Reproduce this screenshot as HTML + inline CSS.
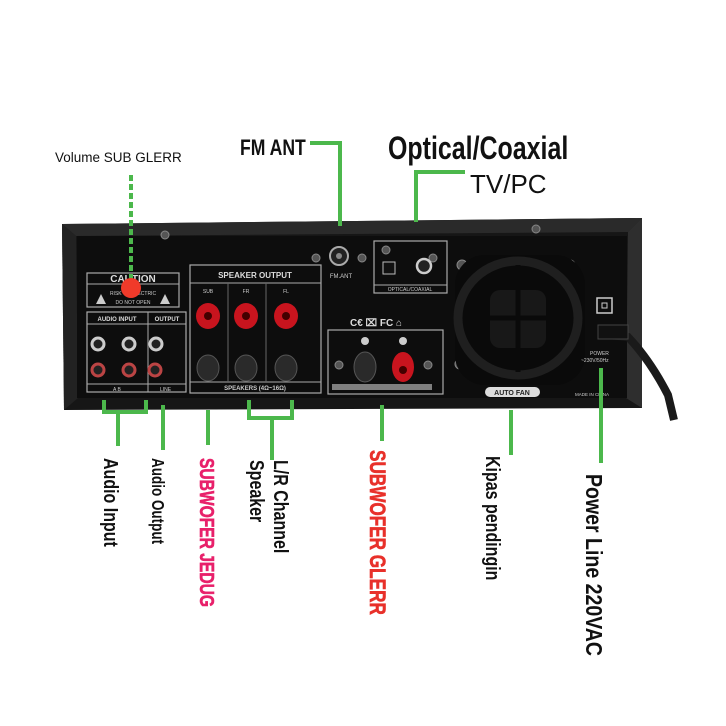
<!DOCTYPE html>
<html><head><meta charset="utf-8"><style>
html,body{margin:0;padding:0;background:#fff}
svg{display:block}
.c{font-family:"Liberation Sans Narrow","Liberation Sans",sans-serif;font-weight:bold}
</style></head><body>
<svg width="726" height="726" viewBox="0 0 726 726" xmlns="http://www.w3.org/2000/svg">
<rect width="726" height="726" fill="#fff"/>
<polygon points="62,224 642,218 642,408 64,410" fill="#161616"/>
<polygon points="62,224 642,218 628,232 76,236" fill="#2a2a2a"/>
<polygon points="62,224 76,236 78,398 64,410" fill="#222"/>
<polygon points="642,218 628,232 626,398 642,408" fill="#2e2e2e"/>
<rect x="77" y="236" width="550" height="162" fill="#0d0d0d"/>
<g fill="#555" stroke="#888" stroke-width="1">
<circle cx="165" cy="235" r="4"/><circle cx="536" cy="229" r="4"/>
<circle cx="316" cy="258" r="4"/><circle cx="362" cy="258" r="4"/>
<circle cx="386" cy="250" r="4"/><circle cx="433" cy="258" r="4"/>
<circle cx="462" cy="265" r="5"/><circle cx="570" cy="265" r="5"/>
<circle cx="460" cy="364" r="5"/><circle cx="564" cy="367" r="5"/>
<circle cx="339" cy="365" r="4"/><circle cx="428" cy="365" r="4"/>
</g>
<rect x="87" y="273" width="92" height="34" fill="none" stroke="#aaa" stroke-width="1.2"/>
<line x1="87" y1="284" x2="179" y2="284" stroke="#aaa"/>
<text x="133" y="282" font-family="Liberation Sans" font-weight="bold" font-size="10" fill="#ddd" text-anchor="middle">CAUTION</text>
<text x="133" y="295" font-family="Liberation Sans" font-size="5" fill="#ccc" text-anchor="middle">RISK OF ELECTRIC</text>
<text x="133" y="304" font-family="Liberation Sans" font-size="5" fill="#ccc" text-anchor="middle">DO NOT OPEN</text>
<polygon points="96,304 101,294 106,304" fill="#ccc"/><polygon points="160,304 165,294 170,304" fill="#ccc"/>
<rect x="87" y="312" width="99" height="80" fill="none" stroke="#aaa" stroke-width="1.2"/>
<line x1="87" y1="324" x2="186" y2="324" stroke="#aaa"/>
<line x1="148" y1="312" x2="148" y2="392" stroke="#aaa"/>
<line x1="87" y1="384" x2="186" y2="384" stroke="#aaa"/>
<text x="117" y="321" font-family="Liberation Sans" font-weight="bold" font-size="6" fill="#ddd" text-anchor="middle">AUDIO INPUT</text>
<text x="167" y="321" font-family="Liberation Sans" font-weight="bold" font-size="6" fill="#ddd" text-anchor="middle">OUTPUT</text>
<g stroke-width="3"><circle cx="98" cy="344" r="6" fill="#222" stroke="#ccc"/><circle cx="129" cy="344" r="6" fill="#222" stroke="#ccc"/><circle cx="156" cy="344" r="6" fill="#222" stroke="#ccc"/>
<circle cx="98" cy="370" r="6" fill="#222" stroke="#b44"/><circle cx="129" cy="370" r="6" fill="#222" stroke="#b44"/><circle cx="155" cy="370" r="6" fill="#222" stroke="#b44"/></g>
<text x="113" y="391" font-family="Liberation Sans" font-size="5" fill="#ccc">A      B</text>
<text x="160" y="391" font-family="Liberation Sans" font-size="5" fill="#ccc">LINE</text>
<rect x="190" y="265" width="131" height="128" fill="none" stroke="#aaa" stroke-width="1.2"/>
<line x1="190" y1="283" x2="321" y2="283" stroke="#aaa"/>
<line x1="190" y1="382" x2="321" y2="382" stroke="#aaa"/>
<line x1="228" y1="283" x2="228" y2="382" stroke="#666"/><line x1="266" y1="283" x2="266" y2="382" stroke="#666"/>
<text x="255" y="278" font-family="Liberation Sans" font-weight="bold" font-size="8" fill="#ddd" text-anchor="middle">SPEAKER OUTPUT</text>
<text x="255" y="390" font-family="Liberation Sans" font-weight="bold" font-size="6" fill="#ccc" text-anchor="middle">SPEAKERS (4Ω~16Ω)</text>
<text x="208" y="293" font-family="Liberation Sans" font-size="5" fill="#ccc" text-anchor="middle">SUB</text>
<text x="246" y="293" font-family="Liberation Sans" font-size="5" fill="#ccc" text-anchor="middle">FR</text>
<text x="286" y="293" font-family="Liberation Sans" font-size="5" fill="#ccc" text-anchor="middle">FL</text>
<g fill="#c8141e"><ellipse cx="208" cy="316" rx="12" ry="13"/><ellipse cx="246" cy="316" rx="12" ry="13"/><ellipse cx="286" cy="316" rx="12" ry="13"/></g>
<g fill="#400"><circle cx="208" cy="316" r="4"/><circle cx="246" cy="316" r="4"/><circle cx="286" cy="316" r="4"/></g>
<g fill="#2a2a2a" stroke="#555"><ellipse cx="208" cy="368" rx="11" ry="13"/><ellipse cx="246" cy="368" rx="11" ry="13"/><ellipse cx="286" cy="368" rx="11" ry="13"/></g>
<circle cx="339" cy="256" r="9" fill="#222" stroke="#aaa" stroke-width="2"/><circle cx="339" cy="256" r="3" fill="#888"/>
<text x="341" y="278" font-family="Liberation Sans" font-size="6" fill="#ccc" text-anchor="middle">FM.ANT</text>
<rect x="374" y="241" width="73" height="52" fill="none" stroke="#aaa" stroke-width="1.2"/>
<line x1="374" y1="285" x2="447" y2="285" stroke="#aaa"/>
<text x="410" y="291" font-family="Liberation Sans" font-size="5" fill="#ccc" text-anchor="middle">OPTICAL/COAXIAL</text>
<rect x="383" y="262" width="12" height="12" fill="#111" stroke="#bbb"/>
<circle cx="424" cy="266" r="7" fill="#222" stroke="#ccc" stroke-width="2.5"/>
<text x="350" y="326" font-family="Liberation Sans" font-weight="bold" font-size="10" fill="#ddd">C€ ⌧ FC ⌂</text>
<rect x="328" y="330" width="115" height="64" fill="none" stroke="#aaa" stroke-width="1.2"/>
<circle cx="365" cy="341" r="4" fill="#ccc"/><circle cx="403" cy="341" r="4" fill="#ccc"/>
<ellipse cx="365" cy="367" rx="11" ry="15" fill="#2a2a2a" stroke="#555"/>
<ellipse cx="403" cy="367" rx="11" ry="15" fill="#c8141e"/><circle cx="403" cy="370" r="4" fill="#400"/>
<rect x="332" y="384" width="100" height="6" fill="#ccc" opacity=".6"/>
<rect x="455" y="255" width="130" height="130" rx="30" fill="#0a0a0a"/>
<ellipse cx="518" cy="318" rx="60" ry="57" fill="none" stroke="#1f1f1f" stroke-width="9"/>
<rect x="490" y="290" width="56" height="58" rx="10" fill="#181818"/>
<line x1="470" y1="318" x2="566" y2="318" stroke="#0a0a0a" stroke-width="5"/>
<line x1="518" y1="265" x2="518" y2="372" stroke="#0a0a0a" stroke-width="5"/>
<rect x="485" y="387" width="55" height="10" rx="5" fill="#ddd"/>
<text x="512" y="395" font-family="Liberation Sans" font-weight="bold" font-size="7" fill="#222" text-anchor="middle">AUTO FAN</text>
<text x="575" y="396" font-family="Liberation Sans" font-size="4.5" fill="#ccc">MADE IN CHINA</text>
<rect x="597" y="298" width="15" height="15" fill="none" stroke="#ccc" stroke-width="1.5"/><rect x="602" y="303" width="5" height="5" fill="none" stroke="#ccc"/>
<text x="590" y="355" font-family="Liberation Sans" font-size="5" fill="#ccc">POWER</text>
<text x="581" y="362" font-family="Liberation Sans" font-size="5" fill="#ccc">~230V/50Hz</text>
<path d="M608,335 L628,337 Q650,360 668,395 L674,420" fill="none" stroke="#1a1a1a" stroke-width="8"/>
<rect x="598" y="325" width="30" height="14" fill="#111" stroke="#444"/>
<text x="55" y="162" font-family="Liberation Sans" font-size="13.5" fill="#111">Volume SUB GLERR</text>
<line x1="131" y1="175" x2="131" y2="285" stroke="#4cb84c" stroke-width="4" stroke-dasharray="6,3"/>
<circle cx="131" cy="288" r="10" fill="#f03a2a"/>
<text class="c" x="240" y="155" font-size="22" fill="#111" transform="translate(240,0) scale(0.8,1) translate(-240,0)">FM ANT</text>
<path d="M310,143 L340,143 L340,226" fill="none" stroke="#4cb84c" stroke-width="4"/>
<text class="c" x="388" y="159" font-size="32" fill="#111" transform="translate(388,0) scale(0.78,1) translate(-388,0)">Optical/Coaxial</text>
<text x="470" y="193" font-family="Liberation Sans" font-size="26" fill="#111">TV/PC</text>
<path d="M465,172 L416,172 L416,222" fill="none" stroke="#4cb84c" stroke-width="4"/>
<g fill="none" stroke="#4cb84c" stroke-width="4">
<path d="M104,400 L104,412 L146,412 L146,400"/><path d="M118,412 L118,446"/>
<path d="M163,405 L163,450"/>
<path d="M208,410 L208,445"/>
<path d="M249,400 L249,418 L292,418 L292,400"/><path d="M272,418 L272,460"/>
<path d="M382,405 L382,441"/>
<path d="M511,410 L511,455"/>
<path d="M601,368 L601,463"/>
</g>
<g class="c" font-size="20" fill="#111">
<text transform="translate(104,458) rotate(90) scale(0.8,1)">Audio Input</text>
<text transform="translate(152,458) rotate(90) scale(0.75,1)" font-size="18">Audio Output</text>
<text transform="translate(250,460) rotate(90) scale(0.8,1)">Speaker</text>
<text transform="translate(274,460) rotate(90) scale(0.8,1)">L/R Channel</text>
<text transform="translate(486,456) rotate(90) scale(0.8,1)">Kipas pendingin</text>
<text transform="translate(586,474) rotate(90) scale(0.85,1)" font-size="23">Power Line  220VAC</text>
<text transform="translate(200,458) rotate(90) scale(0.78,1)" fill="#e8206a" font-weight="bold" stroke="#e8206a" stroke-width="0.6">SUBWOFER JEDUG</text>
<text transform="translate(370,450) rotate(90) scale(0.78,1)" fill="#e8302a" font-size="22" stroke="#e8302a" stroke-width="0.6">SUBWOFER GLERR</text>
</g>
</svg>
</body></html>
